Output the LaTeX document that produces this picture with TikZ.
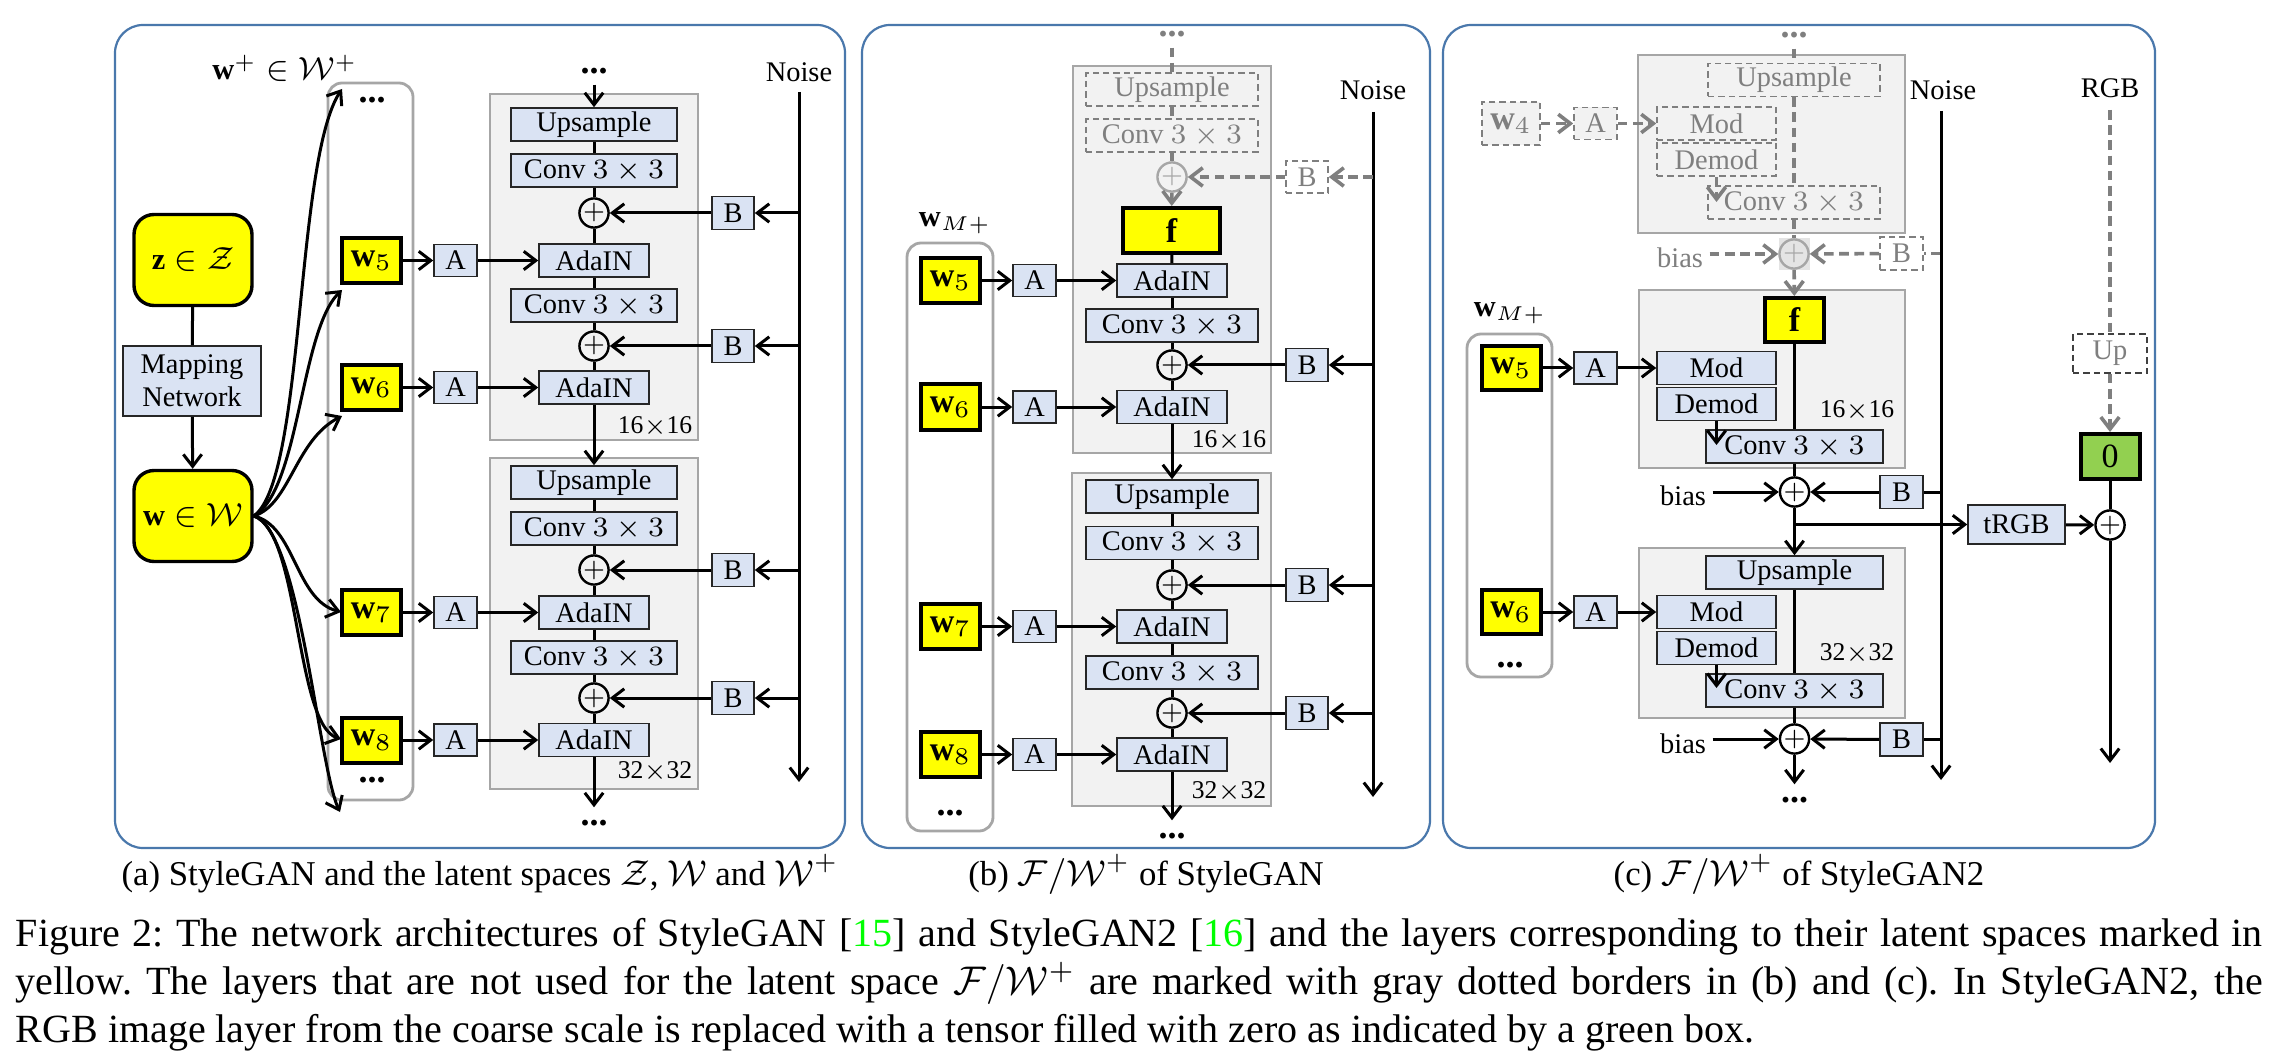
\documentclass[tikz,border=0pt]{standalone}
\usepackage{fontspec}
\setmainfont{Liberation Serif}
\usetikzlibrary{arrows.meta}
\frenchspacing
\definecolor{boxc}{HTML}{DAE3F3}
\definecolor{bordc}{HTML}{262626}
\definecolor{yel}{HTML}{FFFF00}
\definecolor{gfill}{HTML}{F2F2F2}
\definecolor{gblk}{HTML}{A6A6A6}
\definecolor{panelc}{HTML}{4A78AC}
\definecolor{grn}{HTML}{92D050}
\definecolor{dgc}{HTML}{7F7F7F}
\definecolor{lgc}{HTML}{A6A6A6}
\definecolor{hlc}{HTML}{E4E4E4}
\definecolor{citec}{HTML}{00FF00}
\newcommand\figfont{\fontsize{7.1pt}{8.25pt}\selectfont}
\newcommand\wfont{\fontsize{8.5pt}{9pt}\selectfont}
\newcommand\labfont{\fontsize{7.6pt}{9pt}\selectfont}
\newcommand\smfont{\fontsize{6.4pt}{7pt}\selectfont}
\newcommand\dotfont{\fontsize{9pt}{9pt}\selectfont\bfseries}
\newcommand\plusfont{\fontsize{6.5pt}{6.5pt}\selectfont}
\newcommand\subfont{\fontsize{8.7pt}{11pt}\selectfont}
\newcommand\capfont{\fontsize{10pt}{12pt}\selectfont}
\begin{document}
\begin{tikzpicture}[x=0.25pt,y=-0.25pt,
  every node/.style={inner sep=0pt,font=\figfont},
  blk/.style={draw=bordc,fill=boxc,line width=0.4pt,minimum height=8.25pt},
  ybox/.style={draw=black,fill=yel,line width=1pt,minimum width=14.75pt,minimum height=11.25pt,font=\wfont},
  gblock/.style={draw=gblk,fill=gfill,line width=0.7pt},
  colbox/.style={draw=gblk,line width=0.7pt,rounded corners=3.5pt},
  panel/.style={draw=panelc,line width=0.55pt,rounded corners=7pt},
  ln/.style={line width=0.75pt},
  arr/.style={line width=0.75pt,-{Straight Barb[length=3pt,width=4.6pt]}},
  gln/.style={draw=dgc,line width=0.9pt,dash pattern=on 2.4pt off 1.4pt},
  garr/.style={gln,-{Straight Barb[length=3pt,width=4.6pt]}},
  dbox/.style={draw=dgc,line width=0.4pt,dash pattern=on 1.6pt off 1pt,text=dgc,minimum height=8.25pt},
  plus/.style={circle,draw=black,line width=0.6pt,minimum size=6.6pt,font=\plusfont},
  gplus/.style={circle,draw=lgc,line width=0.6pt,minimum size=6.6pt,font=\plusfont,text=lgc},
  dots/.style={font=\dotfont},
  gdots/.style={font=\dotfont,text=dgc},
  lab/.style={anchor=base,font=\labfont},
  res/.style={anchor=base east,font=\smfont},
]
\path[use as bounding box,fill=white] (0,0) rectangle (2276,1058);

% ================= panel (a) =================
\draw[panel] (115,25) rectangle (845,848);
\draw[gblock] (490,94) rectangle (698,440);
\draw[gblock] (490,458) rectangle (698,789);
\draw[colbox] (328,83) rectangle (413,800);
\node[lab] (awl) at (285,80) {$\mathbf{w}^+\in\mathcal{W}^+$};
\node[ybox,rounded corners=5pt,minimum width=29.5pt,minimum height=22.75pt,line width=0.85pt,font=\labfont] (az) at (193,260) {$\mathbf{z}\in\mathcal{Z}$};
\node[blk,minimum width=34.5pt,minimum height=17.5pt,align=center] (amap) at (192,381) {Mapping\\Network};
\node[ybox,rounded corners=5pt,minimum width=29.5pt,minimum height=22.75pt,line width=0.85pt,font=\labfont] (aw) at (193,516) {$\mathbf{w}\in\mathcal{W}$};
\draw[ln] (az) -- (amap);
\draw[arr] (amap) -- (aw);
\node[dots] (acd1) at (372,100) {...};
\node[dots] (acd2) at (372,780) {...};

\node[dots] (adt) at (594,71) {...};
\node[blk,minimum width=41.5pt] (aup1) at (594,124.5) {Upsample};
\node[blk,minimum width=41.5pt] (acv1) at (594,170.5) {Conv $3\times3$};
\node[plus,fill=gfill] (ap1) at (594,213) {$+$};
\node[blk,minimum width=27.5pt] (aad5) at (594,260.5) {AdaIN};
\node[blk,minimum width=41.5pt] (acv2) at (594,305.5) {Conv $3\times3$};
\node[plus,fill=gfill] (ap2) at (594,346) {$+$};
\node[blk,minimum width=27.5pt] (aad6) at (594,387.5) {AdaIN};
\node[res] (ar1) at (693,433) {16$\times$16};
\node[blk,minimum width=41.5pt] (aup2) at (594,482.5) {Upsample};
\node[blk,minimum width=41.5pt] (acv3) at (594,528.5) {Conv $3\times3$};
\node[plus,fill=gfill] (ap3) at (594,570) {$+$};
\node[blk,minimum width=27.5pt] (aad7) at (594,612.5) {AdaIN};
\node[blk,minimum width=41.5pt] (acv4) at (594,657.5) {Conv $3\times3$};
\node[plus,fill=gfill] (ap4) at (594,698) {$+$};
\node[blk,minimum width=27.5pt] (aad8) at (594,740) {AdaIN};
\node[res] (ar2) at (693,778) {32$\times$32};
\node[dots] (adb) at (594,823) {...};

\draw[arr,shorten <=2.5pt] (adt) -- (aup1);
\foreach \a/\b in {aup1/acv1,acv1/ap1,ap1/aad5,aad5/acv2,acv2/ap2,ap2/aad6,aup2/acv3,acv3/ap3,ap3/aad7,aad7/acv4,acv4/ap4,ap4/aad8}
  \draw[ln] (\a) -- (\b);
\draw[arr] (aad6) -- (aup2);
\draw[arr,shorten >=3pt] (aad8) -- (adb);

\node[anchor=base] (anoise) at (799,82) {Noise};
\coordinate (ant) at (799,92);
\coordinate (anb) at (799,782);
\draw[arr] (ant) -- (anb);
\foreach \n/\y in {1/213,2/346,3/570,4/698}{
  \node[blk,minimum width=10.5pt] (aB\n) at (733,\y) {B};
  \draw[arr] (aB\n.east -| ant) -- (aB\n.east);
  \draw[arr] (aB\n) -- (ap\n);
}
\foreach \n/\y in {5/260.5,6/387.5,7/612.5,8/740}{
  \node[ybox] (aw\n) at (371.5,\y) {$\mathbf{w}_\n$};
  \node[blk,minimum width=10.75pt,minimum height=8pt] (aA\n) at (455.5,\y) {A};
  \draw[arr] (aw\n) -- (aA\n);
  \draw[arr] (aA\n) -- (aad\n);
}
\coordinate (acT) at (342,89);
\coordinate (ac5) at (342,290);
\coordinate (ac6) at (342,416);
\coordinate (ac7) at (341,612);
\coordinate (ac8) at (341,739);
\coordinate (acB) at (340,812);
\draw[arr] (aw.east) .. controls (305,480) and (295,160) .. (acT);
\draw[arr] (aw.east) .. controls (300,490) and (300,330) .. (ac5);
\draw[arr] (aw.east) .. controls (290,505) and (295,440) .. (ac6);
\draw[arr] (aw.east) .. controls (295,525) and (295,600) .. (ac7);
\draw[arr] (aw.east) .. controls (300,530) and (295,725) .. (ac8);
\draw[arr] (aw.east) .. controls (300,530) and (318,765) .. (acB);

% ================= panel (b) =================
\draw[panel] (862,25) rectangle (1430,848);
\draw[gblock] (1073,66) rectangle (1271,453);
\draw[gblock] (1072,473) rectangle (1271,806);
\draw[colbox] (907,243) rectangle (993,831);
\node[lab] (bwl) at (955,227) {$\mathbf{w}_{M+}$};
\node[gdots] (bdt) at (1172,34) {...};
\node[dbox,minimum width=43pt] (bup1) at (1172,89.5) {Upsample};
\node[dbox,minimum width=43pt] (bcv1) at (1172,135.5) {Conv $3\times3$};
\node[gplus] (bgp) at (1172,177) {$+$};
\node[ybox,minimum width=24.25pt,minimum height=11.25pt] (bf) at (1171.5,230.5) {$\mathbf{f}$};
\node[blk,minimum width=27.5pt] (bad5) at (1172,280.5) {AdaIN};
\node[blk,minimum width=43pt] (bcv2) at (1172,325.5) {Conv $3\times3$};
\node[plus,fill=gfill] (bp2) at (1172,365) {$+$};
\node[blk,minimum width=27.5pt] (bad6) at (1172,407) {AdaIN};
\node[res] (b16) at (1267,447) {16$\times$16};
\node[blk,minimum width=43pt] (bup2) at (1172,496.5) {Upsample};
\node[blk,minimum width=43pt] (bcv3) at (1172,543) {Conv $3\times3$};
\node[plus,fill=gfill] (bp3) at (1172,585) {$+$};
\node[blk,minimum width=27.5pt] (bad7) at (1172,626.5) {AdaIN};
\node[blk,minimum width=43pt] (bcv4) at (1172,672.5) {Conv $3\times3$};
\node[plus,fill=gfill] (bp4) at (1172,713) {$+$};
\node[blk,minimum width=27.5pt] (bad8) at (1172,754.5) {AdaIN};
\node[res] (b32) at (1267,798) {32$\times$32};
\node[dots] (bdb) at (1172,836) {...};
\node[dots] (bcd) at (950,813) {...};

\draw[gln,shorten <=2.5pt] (bdt) -- (bup1);
\draw[gln] (bup1) -- (bcv1);
\draw[gln] (bcv1) -- (bgp);
\draw[garr] (bgp) -- (bf);
\foreach \a/\b in {bf/bad5,bad5/bcv2,bcv2/bp2,bp2/bad6,bup2/bcv3,bcv3/bp3,bp3/bad7,bad7/bcv4,bcv4/bp4,bp4/bad8}
  \draw[ln] (\a) -- (\b);
\draw[arr] (bad6) -- (bup2);
\draw[arr,shorten >=3pt] (bad8) -- (bdb);

\node[anchor=base] (bnoise) at (1373,100) {Noise};
\coordinate (bnt) at (1373,112);
\coordinate (bnb) at (1373,797);
\draw[arr] (bnt) -- (bnb);
\node[dbox,fill=white,minimum width=10.5pt,minimum height=8pt] (bB1) at (1307,177) {B};
\draw[garr] (bB1.east -| bnt) -- (bB1.east);
\draw[garr] (bB1) -- (bgp);
\foreach \n/\y in {2/365,3/585,4/713}{
  \node[blk,minimum width=10.5pt] (bB\n) at (1307,\y) {B};
  \draw[arr] (bB\n.east -| bnt) -- (bB\n.east);
  \draw[arr] (bB\n) -- (bp\n);
}
\foreach \n/\y in {5/280.5,6/407,7/626.5,8/754.5}{
  \node[ybox] (bw\n) at (950.5,\y) {$\mathbf{w}_\n$};
  \node[blk,minimum width=10.75pt,minimum height=8pt] (bA\n) at (1034.5,\y) {A};
  \draw[arr] (bw\n) -- (bA\n);
  \draw[arr] (bA\n) -- (bad\n);
}

% ================= panel (c) =================
\draw[panel] (1443,25) rectangle (2155,848);
\draw[gblock] (1638,55) rectangle (1905,233);
\draw[gblock] (1639,290) rectangle (1905,468);
\draw[gblock] (1639,548) rectangle (1905,718);
\draw[colbox] (1467,334) rectangle (1552,677);
\fill[hlc] (1779,238) rectangle (1810,270);
\node[gdots] (cdt) at (1794,35) {...};
\node[dbox,minimum width=43pt] (cup1) at (1794,80) {Upsample};
\node[dbox,minimum width=29.75pt] (cmod1) at (1716.5,123.5) {Mod};
\node[dbox,minimum width=29.75pt] (cdem1) at (1716.5,159.5) {Demod};
\node[dbox,minimum width=43pt] (ccv1) at (1794,202.5) {Conv $3\times3$};
\node[dbox,fill=gfill,minimum width=14.5pt,minimum height=10.75pt,font=\wfont] (cw4) at (1511,123.5) {$\mathbf{w}_4$};
\node[dbox,fill=gfill,minimum width=10.75pt,minimum height=8pt] (cA4) at (1595.5,123.5) {A};
\node[gplus] (cgp) at (1794,254) {$+$};
\node[anchor=base,text=dgc] (cbias0) at (1680,268) {bias};
\node[dbox,fill=white,minimum width=10.75pt] (cB0) at (1901.5,253.5) {B};
\node[anchor=base] (cnoise) at (1943,100) {Noise};
\coordinate (cnt) at (1941,111);
\coordinate (cnb) at (1941,780);
\coordinate (cdt1) at (1716.5,202);

\node[lab] (cwl) at (1510,317) {$\mathbf{w}_{M+}$};
\node[ybox,minimum width=14.75pt,minimum height=11pt] (cf) at (1794.5,320) {$\mathbf{f}$};
\node[blk,minimum width=29.75pt] (cmod2) at (1716.5,368) {Mod};
\node[blk,minimum width=29.75pt] (cdem2) at (1716.5,404) {Demod};
\node[blk,minimum width=44.25pt] (ccv2) at (1794.5,446.5) {Conv $3\times3$};
\node[res] (c16) at (1895,417) {16$\times$16};
\node[plus,fill=white] (cp2) at (1794.5,492) {$+$};
\node[anchor=base] (cbias1) at (1683,505) {bias};
\node[blk,minimum width=10.75pt] (cB1) at (1901.5,492) {B};
\coordinate (cdt2) at (1716.5,445);

\node[blk,minimum width=44.25pt] (cup3) at (1794.5,572.5) {Upsample};
\node[blk,minimum width=29.75pt] (cmod3) at (1716.5,612) {Mod};
\node[blk,minimum width=29.75pt] (cdem3) at (1716.5,648) {Demod};
\node[blk,minimum width=44.25pt] (ccv3) at (1794.5,690.5) {Conv $3\times3$};
\node[res] (c32) at (1895,660) {32$\times$32};
\node[plus,fill=white] (cp3) at (1794.5,739) {$+$};
\node[anchor=base] (cbias2) at (1683,753) {bias};
\node[blk,minimum width=10.75pt] (cB2) at (1901.5,739.5) {B};
\node[dots] (cdb) at (1794.5,800) {...};
\coordinate (cdt3) at (1716.5,688);

\node[ybox,minimum width=14.75pt,minimum height=11pt] (cw5) at (1511,368) {$\mathbf{w}_5$};
\node[blk,minimum width=10.75pt,minimum height=8pt] (cA5) at (1595.5,368) {A};
\node[ybox,minimum width=14.75pt,minimum height=11pt] (cw6) at (1511,612) {$\mathbf{w}_6$};
\node[blk,minimum width=10.75pt,minimum height=8pt] (cA6) at (1595.5,612) {A};
\node[dots] (ccd) at (1510,665) {...};

\node[anchor=base] (crgb) at (2110,98) {RGB};
\coordinate (crt) at (2110,110);
\node[dbox,draw=black!75,fill=white,minimum width=18.5pt,minimum height=9.75pt] (cupx) at (2110,353.5) {Up};
\node[draw=black,fill=grn,line width=1pt,minimum width=14.75pt,minimum height=11.25pt,font=\wfont] (czero) at (2110,456.5) {0};
\node[plus,fill=white] (crp) at (2110,525) {$+$};
\node[blk,minimum width=24.25pt,minimum height=9.75pt] (ctrgb) at (2016.5,524.5) {tRGB};
\coordinate (crb) at (2110,763);
\coordinate (cbr) at (1794.5,524.5);

% connectors (c)
\draw[gln,shorten <=2.5pt] (cdt) -- (cup1);
\draw[gln] (cup1) -- (ccv1);
\draw[garr] (cdem1) -- (cdt1);
\draw[gln] (ccv1) -- (cgp);
\draw[garr] (cgp) -- (cf);
\draw[garr,shorten <=1.5pt] (cbias0.east |- cgp) -- (cgp);
\draw[garr] (cB0) -- (cgp);
\draw[gln] (cB0.east -| cnt) -- (cB0.east);
\draw[garr] (cw4) -- (cA4);
\draw[garr] (cA4) -- (cmod1);
\draw[arr] (cnt) -- (cnb);

\draw[ln] (cf) -- (ccv2);
\draw[arr] (cdem2) -- (cdt2);
\draw[ln] (ccv2) -- (cp2);
\draw[arr,shorten <=1.5pt] (cbias1.east |- cp2) -- (cp2);
\draw[arr] (cB1) -- (cp2);
\draw[ln] (cB1.east -| cnt) -- (cB1.east);
\draw[arr] (cp2) -- (cup3);
\draw[arr] (cbr) -- (ctrgb);
\draw[arr] (cw5) -- (cA5);
\draw[arr] (cA5) -- (cmod2);

\draw[ln] (cup3) -- (ccv3);
\draw[arr] (cdem3) -- (cdt3);
\draw[ln] (ccv3) -- (cp3);
\draw[arr,shorten <=1.5pt] (cbias2.east |- cp3) -- (cp3);
\draw[arr] (cB2) -- (cp3);
\draw[ln] (cB2.east -| cnt) -- (cB2.east);
\draw[arr,shorten >=3pt] (cp3) -- (cdb);
\draw[arr] (cw6) -- (cA6);
\draw[arr] (cA6) -- (cmod3);

\draw[gln] (crt) -- (cupx);
\draw[garr] (cupx) -- (czero);
\draw[ln] (czero) -- (crp);
\draw[arr] (ctrgb) -- (crp);
\draw[arr] (crp) -- (crb);

% ================= captions =================
\node[anchor=base,font=\subfont] (sa) at (480,885) {(a) StyleGAN and the latent spaces $\mathcal{Z}$, $\mathcal{W}$ and $\mathcal{W}^+$};
\node[anchor=base,font=\subfont] (sb) at (1146,885) {(b) $\mathcal{F}/\mathcal{W}^+$ of StyleGAN};
\node[anchor=base,font=\subfont] (sc) at (1799,885) {(c) $\mathcal{F}/\mathcal{W}^+$ of StyleGAN2};
\node[anchor=base west,font=\capfont] (cap1) at (15,946) {\makebox[561.75pt][s]{Figure 2: The network architectures of StyleGAN [\textcolor{citec}{15}] and StyleGAN2 [\textcolor{citec}{16}] and the layers corresponding to their latent spaces marked in}};
\node[anchor=base west,font=\capfont] (cap2) at (15,994) {\makebox[561.75pt][s]{yellow. The layers that are not used for the latent space $\mathcal{F}/\mathcal{W}^+$ are marked with gray dotted borders in (b) and (c). In StyleGAN2, the}};
\node[anchor=base west,font=\capfont] (cap3) at (15,1042) {RGB image layer from the coarse scale is replaced with a tensor filled with zero as indicated by a green box.};
\end{tikzpicture}
\end{document}
